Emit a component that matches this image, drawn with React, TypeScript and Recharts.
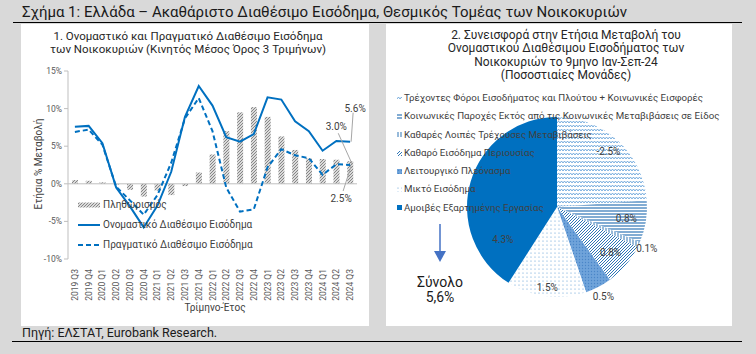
import React from "react";
import {
  ComposedChart,
  Bar,
  Line,
  XAxis,
  YAxis,
  ReferenceLine,
  LabelList,
  PieChart,
  Pie,
  Cell,
} from "recharts";

// left panel: 3-quarter moving average, annual % change
const quarters = [
  "2019 Q3", "2019 Q4",
  "2020 Q1", "2020 Q2", "2020 Q3", "2020 Q4",
  "2021 Q1", "2021 Q2", "2021 Q3", "2021 Q4",
  "2022 Q1", "2022 Q2", "2022 Q3", "2022 Q4",
  "2023 Q1", "2023 Q2", "2023 Q3", "2023 Q4",
  "2024 Q1", "2024 Q2", "2024 Q3",
];
const nominalIncome = [7.6, 7.7, 5.4, -0.5, -3.0, -5.8, -2.9, 1.6, 8.9, 13.0, 10.4, 6.2, 5.6, 6.6, 11.5, 11.2, 8.3, 7.0, 4.4, 5.7, 5.6];
const realIncome = [6.9, 7.2, 5.2, -0.4, -2.2, -4.1, -1.5, 2.8, 8.7, 11.4, 7.0, -0.5, -3.7, -3.4, 2.2, 4.6, 3.8, 3.4, 1.2, 2.6, 2.5];
const inflation = [0.5, 0.4, 0.2, -0.1, -0.8, -1.7, -0.9, -1.5, -0.3, 1.5, 3.9, 7.0, 9.5, 10.2, 8.9, 6.3, 4.5, 3.4, 3.3, 3.2, 3.0];
const yTicks = [-10, -5, 0, 5, 10, 15];

// right panel: contributions, 9M Jan-Sep 2024 (pp)
const pieLabels = [
  "Τρέχοντες Φόροι Εισοδήματος και Πλούτου + Κοινωνικές Εισφορές",
  "Κοινωνικές Παροχές Εκτός από τις Κοινωνικές Μεταβιβάσεις σε Είδος",
  "Καθαρές Λοιπές Τρέχουσες Μεταβιβάσεις",
  "Καθαρό Εισόδημα Περιουσίας",
  "Λειτουργικό Πλεόνασμα",
  "Μικτό Εισόδημα",
  "Αμοιβές Εξαρτημένης Εργασίας",
];
const pieValues = [-2.5, 0.8, 0.1, 0.8, 0.5, 1.5, 4.3];

const sliceFills = [
  "url(#taxPat)",
  "url(#benefitPat)",
  "url(#transferPat)",
  "url(#propertyPat)",
  "url(#surplusPat)",
  "url(#mixedPat)",
  "#0070c0",
];
// label placement like excel's best fit: radius factor and angle nudge
const labelRadius = [0.84, 0.78, 1.1, 0.78, 1.12, 0.9, 0.7];
const labelNudge = [0, 0, 0, 0, 0, 0, 47];

const BLUE = "#0070c0";
const TXT = "#404040";
const RAD = Math.PI / 180;

const Patterns = () => (
  <svg width={0} height={0} style={{ position: "absolute" }}>
    <defs>
      <pattern id="grayHatch" width={3} height={3} patternUnits="userSpaceOnUse">
        <rect width={3} height={3} fill="#fff" />
        <path d="M-1,1 l2,-2 M0,3 l3,-3 M2,4 l2,-2" stroke="#7f7f7f" strokeWidth={1.1} />
      </pattern>
      <pattern id="taxPat" width={6} height={4} patternUnits="userSpaceOnUse">
        <rect width={6} height={4} fill="#fff" />
        <path d="M0,3 L1.5,1 L3,3 L4.5,1 L6,3" stroke="#5b9bd5" strokeWidth={0.8} fill="none" />
      </pattern>
      <pattern id="benefitPat" width={4} height={3} patternUnits="userSpaceOnUse">
        <rect width={4} height={3} fill="#fff" />
        <line x1={0} y1={1} x2={4} y2={1} stroke="#2e75b6" strokeWidth={1.2} />
      </pattern>
      <pattern id="transferPat" width={3} height={4} patternUnits="userSpaceOnUse">
        <rect width={3} height={4} fill="#fff" />
        <line x1={1} y1={0} x2={1} y2={4} stroke="#2e75b6" strokeWidth={1} />
      </pattern>
      <pattern id="propertyPat" width={3} height={3} patternUnits="userSpaceOnUse">
        <rect width={3} height={3} fill="#fff" />
        <path d="M-1,1 l2,-2 M0,3 l3,-3 M2,4 l2,-2" stroke="#2e75b6" strokeWidth={1} />
      </pattern>
      <pattern id="surplusPat" width={3} height={3} patternUnits="userSpaceOnUse">
        <rect width={3} height={3} fill="#6fa3da" />
        <circle cx={1.5} cy={1.5} r={0.7} fill="#4a86c8" />
      </pattern>
      <pattern id="mixedPat" width={4} height={4} patternUnits="userSpaceOnUse">
        <rect width={4} height={4} fill="#fff" />
        <circle cx={1} cy={1} r={0.6} fill="#5b9bd5" />
      </pattern>
    </defs>
  </svg>
);

const QuarterTick = ({ x, y, payload }: any) => (
  <text
    x={x + 3}
    y={y + 2}
    transform={`rotate(-90, ${x + 3}, ${y + 2})`}
    textAnchor="end"
    fontSize={8.5}
    fill="#595959"
  >
    {payload.value}
  </text>
);

// call-out labels on the last quarter
const lastIdx = quarters.length - 1;

const NominalCallout = (props: any) => {
  const { x, y, index, value } = props;
  if (index !== lastIdx) return null;
  return (
    <g>
      <line x1={x + 3} y1={y - 29} x2={x + 1} y2={y} stroke="#a6a6a6" />
      <text x={x + 5} y={y - 30} textAnchor="middle" fontSize={10} fill={TXT}>
        {value.toFixed(1)}%
      </text>
    </g>
  );
};

const InflationCallout = (props: any) => {
  const { x, y, width, index, value } = props;
  if (index !== lastIdx) return null;
  const cx = x + width / 2;
  return (
    <g>
      <line x1={cx - 12} y1={y - 28} x2={cx + 2} y2={y + 3} stroke="#a6a6a6" />
      <text x={cx - 14} y={y - 31} textAnchor="middle" fontSize={10} fill={TXT}>
        {value.toFixed(1)}%
      </text>
    </g>
  );
};

const RealCallout = (props: any) => {
  const { x, y, index, value } = props;
  if (index !== lastIdx) return null;
  return (
    <g>
      <line x1={x - 7} y1={y + 26} x2={x + 1} y2={y + 1} stroke="#a6a6a6" />
      <text x={x - 9} y={y + 37} textAnchor="middle" fontSize={10} fill={TXT}>
        {value.toFixed(1)}%
      </text>
    </g>
  );
};

const IncomeLegend = () => (
  <div style={{ fontSize: 10, color: TXT, lineHeight: "20px", whiteSpace: "nowrap" }}>
    <div style={{ display: "flex", alignItems: "center" }}>
      <svg width={22} height={8}>
        <rect x={0} y={1.5} width={22} height={5} fill="url(#grayHatch)" />
      </svg>
      <span style={{ marginLeft: 3 }}>Πληθωρισμός</span>
    </div>
    <div style={{ display: "flex", alignItems: "center" }}>
      <svg width={22} height={8}>
        <line x1={0} y1={4} x2={22} y2={4} stroke={BLUE} strokeWidth={2} />
      </svg>
      <span style={{ marginLeft: 3 }}>Ονομαστικό Διαθέσιμο Εισόδημα</span>
    </div>
    <div style={{ display: "flex", alignItems: "center" }}>
      <svg width={22} height={8}>
        <line x1={0} y1={4} x2={22} y2={4} stroke={BLUE} strokeWidth={2} strokeDasharray="5 3" />
      </svg>
      <span style={{ marginLeft: 3 }}>Πραγματικό Διαθέσιμο Εισόδημα</span>
    </div>
  </div>
);

const PieLegend = () => (
  <div style={{ fontSize: 9.7, color: TXT, lineHeight: "18.3px", whiteSpace: "nowrap" }}>
    {pieLabels.map((name, i) => (
      <div key={name} style={{ display: "flex", alignItems: "center" }}>
        <svg width={5} height={5}>
          <rect width={5} height={5} fill={sliceFills[i]} />
        </svg>
        <span style={{ marginLeft: 2 }}>{name}</span>
      </div>
    ))}
  </div>
);

const pieLabel = (props: any) => {
  const { cx, cy, midAngle, outerRadius, index } = props;
  const r = outerRadius * labelRadius[index];
  const a = midAngle + labelNudge[index];
  const x = cx + r * Math.cos(-a * RAD);
  const y = cy + r * Math.sin(-a * RAD);
  return (
    <text x={x} y={y} textAnchor="middle" dominantBaseline="central" fontSize={10} fill={TXT}>
      {pieValues[index].toFixed(1)}%
    </text>
  );
};

export default function App() {
  const incomeData = quarters.map((q, i) => ({
    q,
    nominal: nominalIncome[i],
    real: realIncome[i],
    inflation: inflation[i],
  }));
  const pieData = pieLabels.map((name, i) => ({ name, value: Math.abs(pieValues[i]) }));

  return (
    <div
      style={{
        position: "absolute",
        left: 0,
        top: 0,
        width: 756,
        height: 354,
        background: "#d9d9d9",
        fontFamily: "Roboto, sans-serif",
        overflow: "hidden",
      }}
    >
      <Patterns />
      <div style={{ position: "absolute", left: 13, top: 22, width: 729, height: 1, background: "#000" }} />
      <div style={{ position: "absolute", left: 12, top: 341, width: 730, height: 1, background: "#000" }} />
      <div style={{ position: "absolute", left: 22, top: 3, fontSize: 15, color: "#1a1a1a", whiteSpace: "nowrap" }}>
        Σχήμα 1: Ελλάδα – Ακαθάριστο Διαθέσιμο Εισόδημα, Θεσμικός Τομέας των Νοικοκυριών
      </div>
      <div style={{ position: "absolute", left: 22, top: 325, fontSize: 12.5, color: "#1a1a1a", whiteSpace: "nowrap" }}>
        Πηγή: ΕΛΣΤΑΤ, Eurobank Research.
      </div>

      {/* left panel */}
      <div style={{ position: "absolute", left: 21, top: 24, width: 348, height: 302, background: "#fff" }}>
        <div
          style={{
            position: "absolute",
            left: 0,
            top: 6,
            width: 334,
            textAlign: "center",
            fontSize: 11.5,
            lineHeight: "13px",
            color: "#262626",
          }}
        >
          1. Ονομαστικό και Πραγματικό Διαθέσιμο Εισόδημα
          <br />
          των Νοικοκυριών (Κινητός Μέσος Όρος 3 Τριμήνων)
        </div>
        <div style={{ position: "absolute", left: 17, top: 140, width: 0, height: 0 }}>
          <div
            style={{
              position: "absolute",
              transform: "translate(-50%, -50%) rotate(-90deg)",
              fontSize: 10,
              color: TXT,
              whiteSpace: "nowrap",
            }}
          >
            Ετήσια % Μεταβολή
          </div>
        </div>
        <div
          style={{
            position: "absolute",
            left: 94,
            top: 278,
            width: 200,
            textAlign: "center",
            fontSize: 10,
            color: TXT,
          }}
        >
          Τρίμηνο-Έτος
        </div>
        <ComposedChart
          width={348}
          height={302}
          data={incomeData}
          margin={{ top: 47, right: 12, left: 0, bottom: 0 }}
          barGap={0}
        >
          <XAxis
            dataKey="q"
            interval={0}
            height={67}
            axisLine={false}
            tickLine={false}
            tick={<QuarterTick />}
          />
          <YAxis
            width={47}
            domain={[-10, 15]}
            ticks={yTicks}
            tickFormatter={(v: number) => `${v}%`}
            axisLine={{ stroke: "#bfbfbf" }}
            tickLine={{ stroke: "#bfbfbf" }}
            tickSize={4}
            tickMargin={2}
            tick={{ fontSize: 8.5, fill: "#595959" }}
          />
          <ReferenceLine y={0} stroke="#bfbfbf" />
          <Bar dataKey="inflation" barSize={6} fill="url(#grayHatch)" isAnimationActive={false}>
            <LabelList dataKey="inflation" content={<InflationCallout />} />
          </Bar>
          <Line
            type="linear"
            dataKey="nominal"
            stroke={BLUE}
            strokeWidth={2}
            dot={false}
            isAnimationActive={false}
          >
            <LabelList dataKey="nominal" content={<NominalCallout />} />
          </Line>
          <Line
            type="linear"
            dataKey="real"
            stroke={BLUE}
            strokeWidth={2}
            strokeDasharray="5 3"
            dot={false}
            isAnimationActive={false}
          >
            <LabelList dataKey="real" content={<RealCallout />} />
          </Line>
        </ComposedChart>
        <div style={{ position: "absolute", left: 57, top: 171 }}>
          <IncomeLegend />
        </div>
      </div>

      {/* right panel */}
      <div style={{ position: "absolute", left: 386, top: 24, width: 346, height: 302, background: "#fff" }}>
        <div
          style={{
            position: "absolute",
            left: 0,
            top: 5,
            width: 360,
            textAlign: "center",
            fontSize: 12,
            lineHeight: "13.3px",
            color: "#262626",
          }}
        >
          2. Συνεισφορά στην Ετήσια Μεταβολή του
          <br />
          Ονομαστικού Διαθέσιμου Εισοδήματος των
          <br />
          Νοικοκυριών το 9μηνο Ιαν-Σεπ-24
          <br />
          (Ποσοστιαίες Μονάδες)
        </div>
        <PieChart width={346} height={302} margin={{ top: 0, right: 0, left: 0, bottom: 0 }}>
          <Pie
            data={pieData}
            dataKey="value"
            nameKey="name"
            cx={171}
            cy={183}
            outerRadius={90}
            startAngle={90}
            endAngle={-270}
            stroke="none"
            label={pieLabel}
            labelLine={false}
            isAnimationActive={false}
          >
            {pieData.map((d, i) => (
              <Cell key={d.name} fill={sliceFills[i]} />
            ))}
          </Pie>
        </PieChart>
        <div style={{ position: "absolute", left: 11, top: 65 }}>
          <PieLegend />
        </div>
        <svg style={{ position: "absolute", left: 44, top: 198 }} width={20} height={44}>
          <line x1={10} y1={2} x2={10} y2={30} stroke="#4472c4" strokeWidth={1.5} />
          <path d="M4,29 L16,29 L10,40 Z" fill="#4472c4" />
        </svg>
        <div
          style={{
            position: "absolute",
            left: 14,
            top: 251,
            width: 80,
            textAlign: "center",
            fontSize: 14,
            lineHeight: "15px",
            color: "#1a1a1a",
          }}
        >
          Σύνολο
          <br />
          5,6%
        </div>
      </div>
    </div>
  );
}
